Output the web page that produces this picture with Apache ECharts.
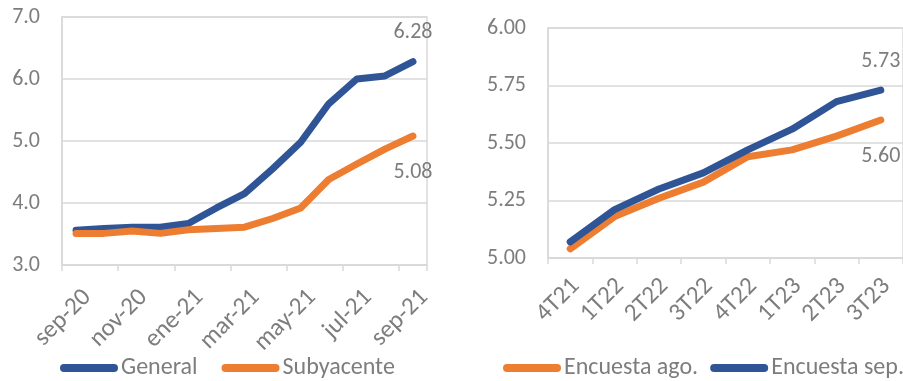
<!DOCTYPE html>
<html>
<head>
<meta charset="utf-8">
<script src="https://cdn.jsdelivr.net/npm/echarts@6/dist/echarts.min.js"></script>
<style>
  html, body { margin: 0; padding: 0; background: #fff; }
  #chart { width: 903px; height: 381px; }
</style>
</head>
<body>
<div id="chart"></div>
<script>
// ==================== 数据 ====================

// 左图：月度
const meses = ['sep-20', 'oct-20', 'nov-20', 'dic-20', 'ene-21', 'feb-21', 'mar-21',
  'abr-21', 'may-21', 'jun-21', 'jul-21', 'ago-21', 'sep-21'];
const general = [3.56, 3.59, 3.61, 3.61, 3.67, 3.92, 4.15, 4.55, 4.98, 5.60, 6.00, 6.05, 6.28];
const subyacente = [3.51, 3.51, 3.55, 3.51, 3.57, 3.59, 3.61, 3.75, 3.92, 4.38, 4.63, 4.87, 5.08];

// 右图：季度
const trimestres = ['4T21', '1T22', '2T22', '3T22', '4T22', '1T23', '2T23', '3T23'];
const encuestaAgo = [5.04, 5.18, 5.26, 5.33, 5.44, 5.47, 5.53, 5.60];
const encuestaSep = [5.07, 5.21, 5.30, 5.37, 5.47, 5.56, 5.68, 5.73];

// ==================== 样式 ====================

const FONT = "'Liberation Sans Narrow', Carlito, Calibri, Roboto, sans-serif";
const GRAY = '#7d7d7d';
const GRID_LINE = '#d9d9d9';
const BLUE = '#2f5597';
const ORANGE = '#ed7d31';
const LEGEND_ICON = 'path://M4,0 L54,0 A4,4 0 0 1 54,8 L4,8 A4,4 0 0 1 4,0 Z';

// 只在最后一个点显示数值
function withLastLabel(values, position, distance) {
  return values.map((v, i) => {
    if (i !== values.length - 1) return v;
    return {
      value: v,
      label: {
        show: true,
        position: position,
        distance: distance,
        color: GRAY,
        fontSize: 22,
        fontFamily: FONT,
        formatter: p => p.value.toFixed(2),
      },
    };
  });
}

function lineSeries(name, values, color, axisIndex, labelPos, labelDist) {
  return {
    name: name,
    type: 'line',
    xAxisIndex: axisIndex,
    yAxisIndex: axisIndex,
    data: withLastLabel(values, labelPos, labelDist),
    symbol: 'circle',
    symbolSize: 0,
    showSymbol: true,
    smooth: false,
    color: color,
    itemStyle: { color: color },
    lineStyle: { color: color, width: 7, cap: 'round', join: 'round' },
    animation: false,
  };
}

function catAxis(gridIndex, data, labelInterval, tickInterval, margin, shift) {
  return {
    type: 'category',
    gridIndex: gridIndex,
    data: data,
    boundaryGap: true,
    axisLine: { show: true, lineStyle: { color: GRID_LINE, width: 1.5 } },
    axisTick: { show: true, interval: tickInterval, length: 6, lineStyle: { color: GRID_LINE, width: 1.5 } },
    axisLabel: {
      interval: labelInterval,
      rotate: 45,
      margin: margin,
      padding: [0, -shift, 0, 0],
      color: GRAY,
      fontSize: 25,
      fontFamily: FONT,
    },
  };
}

function valAxis(gridIndex, min, max, interval, digits) {
  return {
    type: 'value',
    gridIndex: gridIndex,
    min: min,
    max: max,
    interval: interval,
    axisLine: { show: true, lineStyle: { color: GRID_LINE, width: 1.5 } },
    axisTick: { show: false },
    splitLine: { show: true, lineStyle: { color: GRID_LINE, width: 1.5 } },
    axisLabel: {
      margin: 22,
      color: GRAY,
      fontSize: 22,
      fontFamily: FONT,
      formatter: v => v.toFixed(digits),
    },
  };
}

const chart = echarts.init(document.getElementById('chart'), null, { renderer: 'canvas' });

chart.setOption({
  backgroundColor: '#fff',
  animation: false,
  grid: [
    { left: 62, top: 17, width: 365, height: 248, show: true, borderColor: GRID_LINE, borderWidth: 1.5 },
    { left: 548, top: 28, width: 357, height: 230, show: true, borderColor: GRID_LINE, borderWidth: 1.5 },
  ],
  xAxis: [
    catAxis(0, meses, 1, 1, 40, 16),
    catAxis(1, trimestres, 0, 0, 30, 8),
  ],
  yAxis: [
    valAxis(0, 3, 7, 1, 1),
    valAxis(1, 5, 6, 0.25, 2),
  ],
  legend: [
    {
      left: 60, top: 356, padding: 0,
      itemWidth: 58, itemHeight: 8, itemGap: 24,
      icon: LEGEND_ICON,
      data: ['General', 'Subyacente'],
      textStyle: { color: GRAY, fontSize: 24, fontFamily: FONT, padding: [0, 0, 0, -2] },
    },
    {
      left: 503, top: 356, width: 440, padding: 0,
      itemWidth: 58, itemHeight: 8, itemGap: 12,
      icon: LEGEND_ICON,
      data: ['Encuesta ago.', 'Encuesta sep.'],
      textStyle: { color: GRAY, fontSize: 24, fontFamily: FONT, padding: [0, 0, 0, -2] },
    },
  ],
  series: [
    lineSeries('General', general, BLUE, 0, 'top', 18),
    lineSeries('Subyacente', subyacente, ORANGE, 0, 'bottom', 25),
    lineSeries('Encuesta ago.', encuestaAgo, ORANGE, 1, 'bottom', 25),
    lineSeries('Encuesta sep.', encuestaSep, BLUE, 1, 'top', 18),
  ],
});
</script>
</body>
</html>
